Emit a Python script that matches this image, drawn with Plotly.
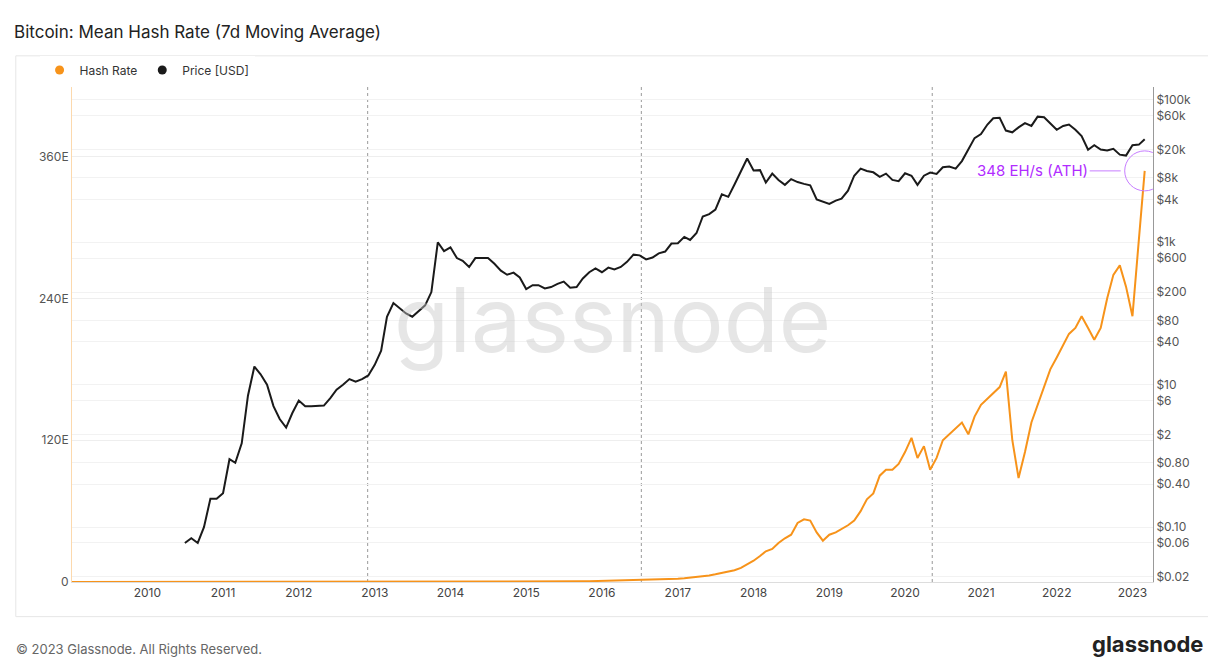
import pandas as pd
import plotly.graph_objects as go

# --------------------------------------------------
# Data (monthly readings)
# --------------------------------------------------
price_start = "2010-07-01"
price_usd = [
    0.06, 0.07, 0.06, 0.10, 0.25, 0.25,
    0.30, 0.90, 0.80, 1.5, 7, 18, 14, 10, 5, 3.3, 2.5, 4,
    6, 5, 5, 5, 5.1, 6.5, 8.5, 10, 12, 11, 12, 13.5,
    19, 30, 90, 140, 120, 100, 90, 110, 130, 200, 1000, 750,
    850, 600, 550, 450, 600, 600, 600, 500, 400, 350, 375, 320,
    220, 250, 250, 225, 235, 260, 280, 230, 235, 310, 380, 430,
    380, 440, 415, 450, 530, 670, 655, 575, 610, 700, 740, 960,
    970, 1190, 1080, 1350, 2300, 2480, 2870, 4700, 4340, 6460, 10000, 15000,
    10200, 10300, 6900, 9200, 7500, 6400, 7700, 7000, 6600, 6300, 4000, 3700,
    3450, 3850, 4100, 5300, 8600, 10800, 10000, 9600, 8300, 9200, 7500, 7200,
    9300, 8600, 6400, 8600, 9500, 9100, 11300, 11600, 10800, 13800, 19700, 29000,
    33000, 45000, 55000, 56000, 37000, 35000, 41000, 47000, 43000, 58000, 57000, 46000,
    38000, 43000, 45000, 38000, 31000, 19900, 23000, 20000, 19400, 20500, 17000, 16500,
    23000, 23500, 28000,
]

hash_start = "2009-01-01"
hash_ehs = (
    [0.0] * 48  # 2009-2012
    + [0.0, 0.0, 0.0, 0.0, 0.0, 0.0, 0.0, 0.0, 0.001, 0.002, 0.005, 0.01]
    + [0.02, 0.03, 0.04, 0.05, 0.07, 0.1, 0.15, 0.2, 0.25, 0.28, 0.3, 0.3]
    + [0.35, 0.35, 0.35, 0.4, 0.4, 0.45, 0.45, 0.45, 0.5, 0.55, 0.65, 0.8]
    + [0.9, 1.1, 1.2, 1.3, 1.4, 1.5, 1.5, 1.6, 1.7, 1.9, 2.1, 2.3]
    + [2.8, 3.2, 3.6, 4.0, 4.5, 5.5, 6.5, 7.5, 8.5, 10.0, 12.0, 15.0]
    + [18, 22, 26, 28, 33, 37, 40, 50, 53, 52, 42, 35]
    + [40, 42, 45, 48, 52, 60, 70, 75, 90, 95, 95, 100]
    + [110, 122, 105, 115, 95, 105, 120, 125, 130, 135, 125, 140]
    + [150, 155, 160, 165, 178, 120, 88, 110, 135, 150, 165, 180]
    + [190, 200, 210, 215, 225, 215, 205, 215, 240, 260, 268, 250]
    + [225, 290, 348]
)

halvings = ["2012-11-28", "2016-07-09", "2020-05-11"]
price_ticks = [0.02, 0.06, 0.10, 0.40, 0.80, 2, 6, 10, 40, 80, 200, 600, 1000,
               4000, 8000, 20000, 60000, 100000]
price_labels = ["$0.02", "$0.06", "$0.10", "$0.40", "$0.80", "$2", "$6", "$10",
                "$40", "$80", "$200", "$600", "$1k", "$4k", "$8k", "$20k",
                "$60k", "$100k"]
hash_ticks = [0, 120, 240, 360]
hash_labels = ["0", "120E", "240E", "360E"]

price_dates = pd.date_range(price_start, periods=len(price_usd), freq="MS")
hash_dates = pd.date_range(hash_start, periods=len(hash_ehs), freq="MS")

ORANGE = "#f7931a"
FONT = "Inter, Roboto, sans-serif"

fig = go.Figure()

fig.add_trace(go.Scatter(
    x=hash_dates, y=hash_ehs, mode="lines", name="Hash Rate", showlegend=False,
    line=dict(color=ORANGE, width=2), yaxis="y",
))
fig.add_trace(go.Scatter(
    x=price_dates, y=price_usd, mode="lines", name="Price [USD]", showlegend=False,
    line=dict(color="#1a1a1a", width=2), yaxis="y2",
))
# legend entries with round markers
for name, col in [("Hash Rate", ORANGE), ("Price [USD]", "#1a1a1a")]:
    fig.add_trace(go.Scatter(x=[None], y=[None], mode="markers", name=name,
                             marker=dict(color=col, size=9)))

for d in halvings:
    fig.add_shape(type="line", xref="x", yref="paper", x0=d, x1=d, y0=0, y1=1,
                  line=dict(color="#999", width=1, dash="dot"), layer="below")

# ATH marker
ath_date = hash_dates[-1]
fig.add_shape(type="circle", xref="x", yref="y", xsizemode="pixel", ysizemode="pixel",
              xanchor=ath_date, yanchor=hash_ehs[-1], x0=-20, x1=20, y0=-20, y1=20,
              line=dict(color="#c77dff", width=1))
fig.add_annotation(x=ath_date, y=hash_ehs[-1], xref="x", yref="y",
                   text="348 EH/s (ATH)", showarrow=True, ax=-55, ay=0,
                   arrowhead=0, arrowcolor="#c77dff", arrowwidth=1,
                   xanchor="right", font=dict(color="#b12cff", size=15, family=FONT),
                   standoff=24)

# watermark + footer
fig.add_annotation(x=0.5, y=0.53, xref="paper", yref="paper", text="glassnode",
                   showarrow=False, font=dict(size=90, color="rgba(200,200,200,0.45)", family=FONT))
fig.add_annotation(x=0, y=-0.155, xref="paper", yref="paper", text="© 2023 Glassnode. All Rights Reserved.",
                   showarrow=False, xanchor="left", xshift=-58,
                   font=dict(size=13, color="#666", family=FONT))
fig.add_annotation(x=1, y=-0.155, xref="paper", yref="paper", text="<b>glassnode</b>",
                   showarrow=False, xanchor="right", xshift=52,
                   font=dict(size=22, color="#222", family=FONT))

fig.update_layout(
    width=1216, height=662,
    title=dict(text="Bitcoin: Mean Hash Rate (7d Moving Average)", x=0.005, y=0.972,
               font=dict(size=17, color="#222", family=FONT)),
    paper_bgcolor="white", plot_bgcolor="white",
    font=dict(family=FONT, color="#555", size=12),
    margin=dict(l=64, r=71, t=79, b=88),
    showlegend=True,
    legend=dict(orientation="h", x=-0.03, y=1.005, xanchor="left", yanchor="bottom",
                font=dict(size=12, color="#333")),
    xaxis=dict(range=["2009-01-03", "2023-04-10"], showgrid=False, dtick="M12",
               tickformat="%Y", ticks="", showline=True, linecolor="#ddd",
               tickfont=dict(size=12, color="#444")),
    yaxis=dict(range=[0, 419], tickvals=hash_ticks, ticktext=hash_labels,
               showgrid=True, gridcolor="#eee", showline=True, linecolor="#fcd9ad",
               tickfont=dict(size=12, color="#555"), zeroline=False),
    yaxis2=dict(type="log", overlaying="y", side="right", range=[-1.77, 5.18],
                tickvals=price_ticks, ticktext=price_labels, showgrid=True,
                gridcolor="#f2f2f2", showline=True, linecolor="#999",
                tickfont=dict(size=12, color="#555")),
)

# outer frame
fig.add_shape(type="rect", xref="paper", yref="paper", x0=-0.052, x1=1.058, y0=-0.07, y1=1.063,
              line=dict(color="#e6e6e6", width=1), layer="below")

fig.write_html("out.html")
